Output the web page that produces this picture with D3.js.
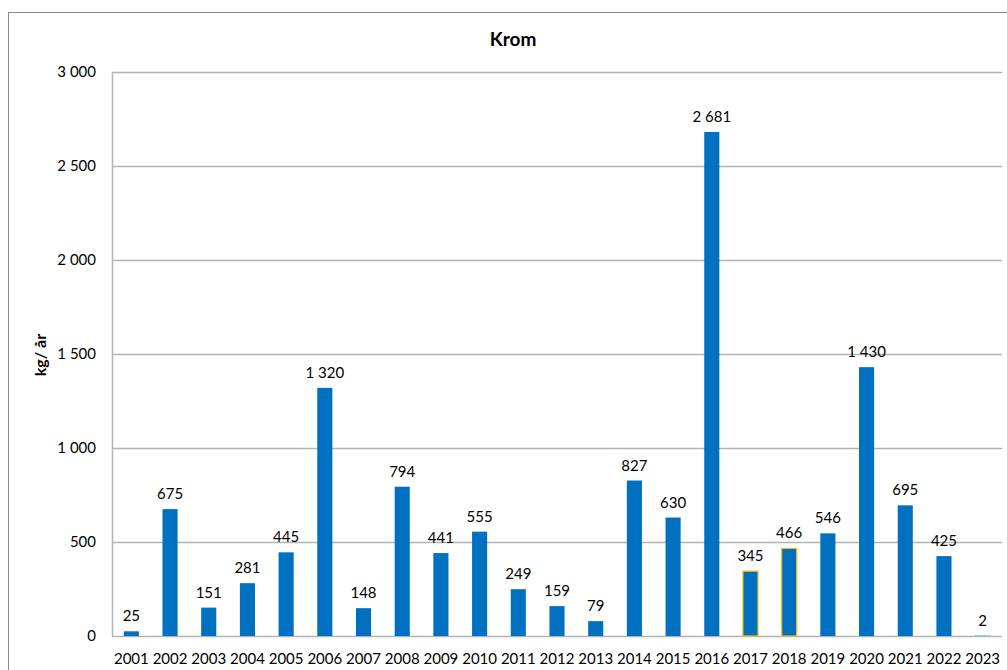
<!DOCTYPE html>
<html><head><meta charset="utf-8">
<script src="https://cdn.jsdelivr.net/npm/d3@7"></script>
<style>body{margin:0;background:#fff}svg{display:block}</style>
</head><body>
<script>
const years = ["2001","2002","2003","2004","2005","2006","2007","2008","2009","2010","2011","2012","2013","2014","2015","2016","2017","2018","2019","2020","2021","2022","2023"];
const values = [25,675,151,281,445,1320,148,794,441,555,249,159,79,827,630,2681,345,466,546,1430,695,425,2];
const outlined = ["2017","2018"];
const yTicks = [0,500,1000,1500,2000,2500,3000];
const title = "Krom";
const yLabel = "kg/ år";

const W=1007,H=670;
const m={left:112,right:5,top:72,bottom:34};
const svg=d3.select("body").append("svg").attr("width",W).attr("height",H);
const font="Lato, 'Open Sans', sans-serif";
svg.append("rect").attr("x",8.5).attr("y",12.5).attr("width",1020).attr("height",700).attr("fill","none").attr("stroke","#8c8c8c").attr("stroke-width",1);

const x=d3.scaleBand().domain(years).range([m.left,W-m.right]).paddingInner(0.61).paddingOuter(0.305);
const y=d3.scaleLinear().domain([0,3000]).range([H-m.bottom,m.top]);
const fmt=v=>d3.format(",")(v).replace(/,/g," ");

const g=svg.append("g");
g.selectAll("line.grid").data(yTicks).join("line").attr("class","grid")
 .attr("x1",m.left).attr("x2",W-m.right).attr("y1",d=>Math.round(y(d))+0.5).attr("y2",d=>Math.round(y(d))+0.5)
 .attr("stroke","#b3b3b3").attr("stroke-width",1.5);
g.append("line").attr("x1",m.left+0.5).attr("x2",m.left+0.5).attr("y1",m.top).attr("y2",H-m.bottom).attr("stroke","#b3b3b3").attr("stroke-width",1.5);

const yAxis=d3.axisLeft(y).tickValues(yTicks).tickFormat(fmt).tickSize(0).tickPadding(16);
svg.append("g").attr("transform",`translate(${m.left},0)`).call(yAxis)
 .call(s=>s.select(".domain").remove())
 .selectAll("text").attr("font-family",font).attr("font-size",15).attr("fill","#000");

const xAxis=d3.axisBottom(x).tickSize(0).tickPadding(17);
svg.append("g").attr("transform",`translate(0,${H-m.bottom})`).call(xAxis)
 .call(s=>s.select(".domain").remove())
 .selectAll("text").attr("font-family",font).attr("font-size",15).attr("fill","#000");

svg.selectAll("rect.bar").data(years).join("rect").attr("class","bar")
 .attr("x",d=>x(d)).attr("width",x.bandwidth())
 .attr("y",(d,i)=>y(values[i])).attr("height",(d,i)=>y(0)-y(values[i]))
 .attr("fill","#0070c0")
 .attr("stroke",d=>outlined.includes(d)?"#ffc000":(d==="2023"?"#9dc3e6":"none"))
 .attr("stroke-width",1.2);

svg.selectAll("text.lbl").data(years).join("text").attr("class","lbl")
 .attr("x",d=>x(d)+x.bandwidth()/2).attr("y",(d,i)=>y(values[i])-10)
 .attr("text-anchor","middle").attr("font-family",font).attr("font-size",15).attr("fill","#000")
 .text((d,i)=>fmt(values[i]));

svg.append("text").attr("x",513).attr("y",46).attr("text-anchor","middle").attr("font-family",font).attr("font-size",19).attr("font-weight","bold").text(title);
svg.append("text").attr("transform","translate(46,355) rotate(-90)").attr("text-anchor","middle").attr("font-family",font).attr("font-size",16).attr("font-weight","bold").text(yLabel);
</script>
</body></html>
